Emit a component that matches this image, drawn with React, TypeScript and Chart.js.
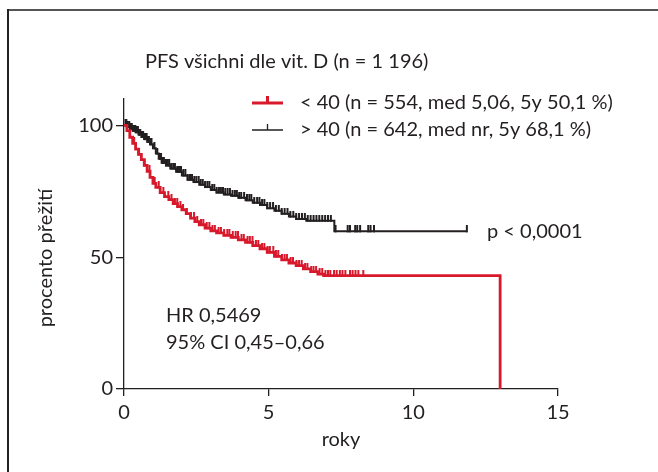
import React, { useEffect, useRef } from "react";
import { Chart, registerables } from "chart.js";

Chart.register(...registerables);

// ---- Data ----
const TITLE = "PFS všichni dle vit. D (n = 1 196)";
const LEGEND_LOW = "< 40 (n = 554, med 5,06, 5y 50,1 %)";
const LEGEND_HIGH = "> 40 (n = 642, med nr, 5y 68,1 %)";
const P_TEXT = "p < 0,0001";
const HR_TEXT = "HR 0,5469";
const CI_TEXT = "95% CI 0,45–0,66";
const X_TITLE = "roky";
const Y_TITLE = "procento přežití";
const X_TICKS = [0, 5, 10, 15];
const Y_TICKS = [0, 50, 100];

// vit. D < 40 (red)
const LOW_TIMES = [0, 0.1, 0.2, 0.3, 0.4, 0.5, 0.6, 0.7, 0.8, 0.9, 1.0, 1.1, 1.25, 1.4, 1.55, 1.7, 1.85, 2.0, 2.15, 2.3, 2.45, 2.6, 2.8, 3.0, 3.2, 3.45, 3.7, 3.95, 4.2, 4.45, 4.7, 4.95, 5.2, 5.45, 5.7, 5.95, 6.2, 6.45, 6.7, 6.9, 13.0];
const LOW_SURV = [100, 98, 95.5, 93.2, 91, 89, 87, 84.8, 82.6, 80.3, 78, 76.5, 74.5, 73, 71.8, 70.3, 69.2, 68, 66.5, 64.8, 63.5, 62.3, 61, 60, 59.2, 58.3, 57.5, 56.6, 55.6, 54.4, 53.2, 51.8, 50.3, 49, 47.8, 46.8, 45.6, 44.5, 43.6, 43.0, 0];
const LOW_CENSOR = [0.35, 0.52, 0.71, 0.88, 1.06, 1.2, 1.36, 1.53, 1.64, 1.76, 1.84, 1.95, 2.04, 2.17, 2.31, 2.42, 2.53, 2.66, 2.74, 2.86, 2.95, 3.06, 3.14, 3.27, 3.35, 3.46, 3.57, 3.64, 3.76, 3.86, 3.94, 4.06, 4.14, 4.27, 4.35, 4.44, 4.56, 4.64, 4.77, 4.85, 4.96, 5.04, 5.16, 5.25, 5.33, 5.46, 5.55, 5.63, 5.76, 5.84, 5.96, 6.05, 6.14, 6.26, 6.34, 6.47, 6.55, 6.64, 6.76, 6.85, 6.96, 7.05, 7.13, 7.26, 7.35, 7.46, 7.55, 7.65, 7.81, 7.9, 8.0, 8.1, 8.27];

// vit. D > 40 (black)
const HIGH_TIMES = [0, 0.1, 0.2, 0.3, 0.4, 0.5, 0.6, 0.7, 0.8, 0.9, 1.0, 1.1, 1.2, 1.3, 1.45, 1.6, 1.8, 2.0, 2.2, 2.4, 2.6, 2.8, 3.0, 3.2, 3.45, 3.7, 3.95, 4.2, 4.45, 4.7, 4.95, 5.2, 5.45, 5.7, 5.95, 6.3, 7.27, 11.85];
const HIGH_SURV = [100, 99.4, 98.6, 98, 97.4, 96.5, 95.6, 94.8, 93.8, 92.8, 91.3, 89.3, 87.3, 85.8, 84.8, 83.6, 82.4, 81, 79.4, 78.5, 77.5, 76.6, 75.5, 74.5, 73.8, 73.3, 72.5, 71.6, 70.6, 69.8, 68.6, 67.6, 66.5, 65.4, 64.5, 63.8, 59.8, 59.8];
const HIGH_CENSOR = [0.05, 0.08, 0.11, 0.13, 0.18, 0.21, 0.23, 0.27, 0.31, 0.36, 0.39, 0.42, 0.48, 0.52, 0.56, 0.62, 0.66, 0.7, 0.74, 0.78, 0.82, 0.86, 0.91, 0.95, 1.05, 1.15, 1.24, 1.28, 1.32, 1.35, 1.38, 1.45, 1.51, 1.56, 1.63, 1.7, 1.76, 1.84, 1.9, 1.97, 2.05, 2.12, 2.2, 2.28, 2.35, 2.43, 2.5, 2.58, 2.65, 2.72, 2.8, 2.88, 2.95, 3.05, 3.12, 3.2, 3.28, 3.35, 3.42, 3.5, 3.58, 3.66, 3.75, 3.83, 3.9, 3.98, 4.05, 4.15, 4.25, 4.33, 4.4, 4.5, 4.6, 4.68, 4.77, 4.85, 4.95, 5.05, 5.15, 5.25, 5.35, 5.45, 5.55, 5.65, 5.75, 5.85, 5.95, 6.05, 6.15, 6.25, 6.35, 6.45, 6.55, 6.65, 6.75, 6.85, 6.95, 7.05, 7.15, 7.31, 7.73, 7.81, 7.99, 8.06, 8.16, 8.44, 8.52, 8.64, 11.85];

const RED = "#d7192b";
const BLACK = "#231f20";
const TEXT = "#231f20";
const FONT = "Lato";

function survAt(times: number[], surv: number[], t: number) {
  let v = surv[0];
  for (let i = 0; i < times.length; i++) {
    if (times[i] <= t) v = surv[i];
  }
  return v;
}

function makeTick(color: string, w: number, h: number) {
  const c = document.createElement("canvas");
  c.width = 4;
  c.height = h * 2;
  const g = c.getContext("2d")!;
  g.fillStyle = color;
  g.fillRect(2 - w / 2, 0, w, h + 1);
  return c;
}

export default function App() {
  const ref = useRef<HTMLCanvasElement>(null);
  useEffect(() => {
    const canvas = ref.current!;
    const redTick = makeTick(RED, 2, 6);
    const blackTick = makeTick(BLACK, 2, 6);

    const overlay = {
      id: "overlay",
      beforeDraw(chart: any) {
        const ctx = chart.ctx;
        ctx.save();
        ctx.fillStyle = "#ffffff";
        ctx.fillRect(0, 0, chart.width, chart.height);
        ctx.fillStyle = "#555555";
        ctx.fillRect(7, 9, chart.width - 7, 2);
        ctx.fillStyle = "#222222";
        ctx.fillRect(7, 9, 2, chart.height - 9);
        ctx.restore();
      },
      afterDraw(chart: any) {
        const ctx = chart.ctx;
        const xs = chart.scales.x;
        const ys = chart.scales.y;
        ctx.save();
        ctx.fillStyle = TEXT;
        ctx.textBaseline = "middle";
        ctx.font = `20px ${FONT}`;
        ctx.textAlign = "left";
        ctx.fillText(TITLE, 145, 62);
        // legend
        const lx0 = 252, lx1 = 283;
        ctx.strokeStyle = RED;
        ctx.lineWidth = 3;
        ctx.beginPath();
        ctx.moveTo(lx0, 103);
        ctx.lineTo(lx1, 103);
        ctx.moveTo((lx0 + lx1) / 2, 103);
        ctx.lineTo((lx0 + lx1) / 2, 96);
        ctx.stroke();
        ctx.strokeStyle = BLACK;
        ctx.lineWidth = 1.3;
        ctx.beginPath();
        ctx.moveTo(lx0, 130);
        ctx.lineTo(lx1, 130);
        ctx.moveTo((lx0 + lx1) / 2, 130);
        ctx.lineTo((lx0 + lx1) / 2, 124);
        ctx.stroke();
        ctx.fillText(LEGEND_LOW, 300, 103);
        ctx.fillText(LEGEND_HIGH, 300, 130);
        ctx.fillText(P_TEXT, 487, 232);
        ctx.fillText(HR_TEXT, 166, 316);
        ctx.fillText(CI_TEXT, 166, 343);
        // axis titles
        ctx.textAlign = "center";
        ctx.fillText(X_TITLE, (xs.left + xs.right) / 2, 440);
        ctx.translate(46, (ys.top + ys.bottom) / 2 + 14);
        ctx.rotate(-Math.PI / 2);
        ctx.fillText(Y_TITLE, 0, 0);
        ctx.restore();
      },
    };

    const chart = new Chart(canvas, {
      type: "line",
      data: {
        datasets: [
          {
            label: LEGEND_LOW,
            data: LOW_TIMES.map((t, i) => ({ x: t, y: LOW_SURV[i] })),
            borderColor: RED,
            borderWidth: 2.8,
            stepped: "before",
            pointRadius: 0,
            fill: false,
          },
          {
            label: LEGEND_HIGH,
            data: HIGH_TIMES.map((t, i) => ({ x: t, y: HIGH_SURV[i] })),
            borderColor: BLACK,
            borderWidth: 2,
            stepped: "before",
            pointRadius: 0,
            fill: false,
          },
          {
            label: "censor low",
            data: LOW_CENSOR.map((t) => ({ x: t, y: survAt(LOW_TIMES, LOW_SURV, t) })),
            showLine: false,
            pointStyle: redTick as any,
            pointRadius: 4,
          },
          {
            label: "censor high",
            data: HIGH_CENSOR.map((t) => ({ x: t, y: survAt(HIGH_TIMES, HIGH_SURV, t) })),
            showLine: false,
            pointStyle: blackTick as any,
            pointRadius: 4,
          },
        ],
      },
      options: {
        responsive: false,
        animation: false,
        layout: { padding: { left: 0, right: 100, top: 99, bottom: 0 } },
        plugins: { legend: { display: false }, tooltip: { enabled: false }, title: { display: false } },
        scales: {
          x: {
            type: "linear",
            min: 0,
            max: 15,
            afterBuildTicks: (s: any) => {
              s.ticks = X_TICKS.map((v) => ({ value: v }));
            },
            afterFit: (s: any) => {
              s.height = 472 - 389;
            },
            ticks: { color: TEXT, font: { family: FONT, size: 20 }, padding: 5, maxRotation: 0 },
            grid: { drawOnChartArea: false, drawTicks: true, tickLength: 7, color: BLACK, lineWidth: 1.3 },
            border: { display: true, color: BLACK, width: 1.3 },
          },
          y: {
            type: "linear",
            min: 0,
            max: 110,
            afterBuildTicks: (s: any) => {
              s.ticks = Y_TICKS.map((v) => ({ value: v }));
            },
            afterFit: (s: any) => {
              s.width = 124;
            },
            ticks: { color: TEXT, font: { family: FONT, size: 20 }, padding: 3 },
            grid: { drawOnChartArea: false, drawTicks: true, tickLength: 8, color: BLACK, lineWidth: 1.3 },
            border: { display: true, color: BLACK, width: 1.3 },
          },
        },
      },
      plugins: [overlay],
    } as any);
    return () => chart.destroy();
  }, []);

  return (
    <div style={{ position: "absolute", left: 0, top: 0, width: 658, height: 472, background: "#fff" }}>
      <canvas ref={ref} width={658} height={472} style={{ display: "block" }} />
    </div>
  );
}
